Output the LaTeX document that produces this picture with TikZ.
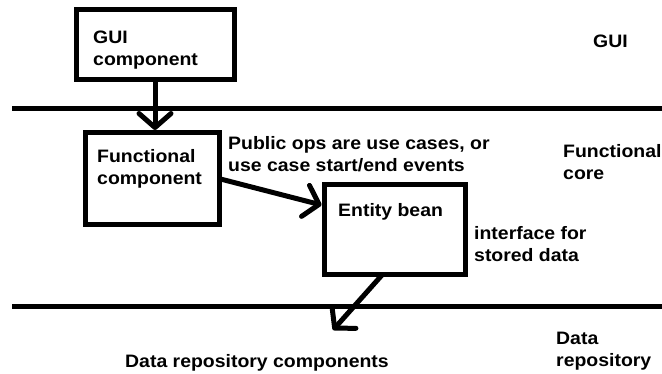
\documentclass[tikz,border=0pt]{standalone}
\usepackage{fontspec}
\setmainfont{Liberation Sans}[BoldFont={* Bold},BoldFeatures={FakeStretch=1.08}]
\usetikzlibrary{arrows.meta,calc}
\begin{document}
\begin{tikzpicture}[x=1pt,y=-1pt,
  font=\fontsize{18}{21.5}\selectfont\bfseries,
  box/.style={draw,line width=5pt,inner sep=0pt,outer sep=0pt,anchor=north west},
  lbl/.style={inner sep=0pt,anchor=base west,align=left},
  layer/.style={line width=5pt},
  conn/.style={line width=5pt,-{Straight Barb[length=14pt,width=32pt,round]}}]
\useasboundingbox (0,0) rectangle (662,374);
% layer separators
\coordinate (l1a) at (12,108.5);
\coordinate (l1b) at (662,108.5);
\coordinate (l2a) at (12,307);
\coordinate (l2b) at (662,307);
\draw[layer] (l1a) -- (l1b);
\draw[layer] (l2a) -- (l2b);
% boxes
\node[box,minimum width=158pt,minimum height=70pt] (gui) at (76.5,9.5) {};
\node[box,minimum width=134pt,minimum height=92.5pt] (func) at (85.5,132.5) {};
\node[box,minimum width=141.5pt,minimum height=90.5pt] (entity) at (324,184.5) {};
% texts (multi-line nodes are placed by the baseline of their last line)
\node[lbl] (guitext) at (93,65.5) {GUI\\component};
\node[lbl] (functext) at (97,184.5) {Functional\\component};
\node[lbl] (entitytext) at (338,217) {Entity bean};
\node[lbl] (pubops) at (228,171.5) {Public ops are use cases, or\\use case start/end events};
\node[lbl] (iface) at (474,261.5) {interface for\\stored data};
\node[lbl] (drcomp) at (125,367) {Data repository components};
\node[lbl] (guilayer) at (593,48) {GUI};
\node[lbl] (corelayer) at (563,179.5) {Functional\\core};
\node[lbl] (datalayer) at (556,366.5) {Data\\repository};
% connectors
\coordinate (dr) at (333,330);
\draw[conn] ($(gui.south west)+(78.5,0)$) -- ($(func.north west)+(69.5,-2.5)$);
\draw[conn] (func.east) -- ($(entity.north west)+(-2.5,20.5)$);
\draw[conn] ($(entity.south west)+(58,0)$) -- (dr);
\end{tikzpicture}
\end{document}
